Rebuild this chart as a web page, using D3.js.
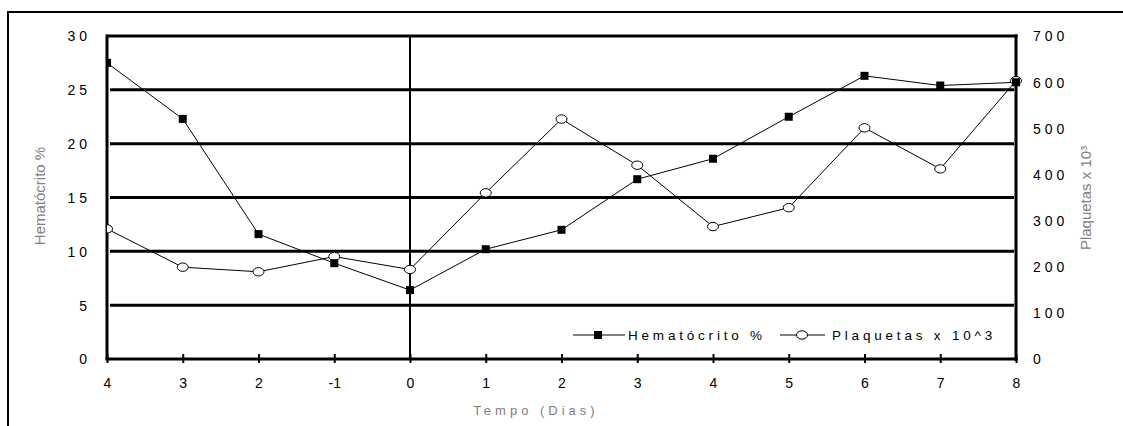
<!DOCTYPE html>
<html>
<head>
<meta charset="utf-8">
<script src="https://cdn.jsdelivr.net/npm/d3@7"></script>
<style>
  html, body { margin: 0; padding: 0; background: #fff; }
  svg { display: block; font-family: "Liberation Sans", Arial, sans-serif; }
</style>
</head>
<body>
<svg id="chart" width="1123" height="426"></svg>
<script>
// Day labels along the time axis (day index order as recorded)
const dayLabels = ["4", "3", "2", "-1", "0", "1", "2", "3", "4", "5", "6", "7", "8"];
// Hematocrit (%) per day
const hematocrito = [27.5, 22.3, 11.6, 8.9, 6.4, 10.2, 12.0, 16.7, 18.6, 22.5, 26.3, 25.4, 25.7];
// Platelets (x 10^3) per day
const plaquetas = [282, 199, 189, 222, 194, 360, 520, 420, 287, 328, 501, 412, 603];
// Axis tick values
const leftTicks = [0, 5, 10, 15, 20, 25, 30];
const rightTicks = [0, 100, 200, 300, 400, 500, 600, 700];
const zeroDayIndex = 4;

const svg = d3.select("#chart");
const plot = { left: 107, right: 1016, top: 36, bottom: 359 };
const font = "Liberation Sans, Arial, sans-serif";

const x = d3.scalePoint().domain(d3.range(dayLabels.length)).range([plot.left, plot.right]).padding(0);
const yL = d3.scaleLinear().domain([0, 30]).range([plot.bottom, plot.top]);
const yR = d3.scaleLinear().domain([0, 700]).range([plot.bottom, plot.top]);

// Outer frame (left and top edges)
svg.append("path")
  .attr("d", "M8,426 L8,12 L1123,12")
  .attr("fill", "none").attr("stroke", "#000").attr("stroke-width", 2);

// Horizontal gridlines
svg.append("g").selectAll("line")
  .data(leftTicks.filter(d => d > 0 && d < 30))
  .join("line")
  .attr("x1", plot.left + 3).attr("x2", plot.right - 2)
  .attr("y1", d => yL(d)).attr("y2", d => yL(d))
  .attr("stroke", "#000").attr("stroke-width", 3);

// Plot frame
const frame = svg.append("g").attr("stroke", "#000").attr("stroke-width", 3);
frame.append("line").attr("x1", plot.left).attr("x2", plot.right + 1.5).attr("y1", plot.top).attr("y2", plot.top);
frame.append("line").attr("x1", plot.left).attr("x2", plot.left).attr("y1", plot.top - 1.5).attr("y2", plot.bottom);
frame.append("line").attr("x1", plot.right).attr("x2", plot.right).attr("y1", plot.top - 1.5).attr("y2", plot.bottom + 2);
frame.append("line").attr("x1", plot.left - 1.5).attr("x2", plot.right + 1.5).attr("y1", plot.bottom).attr("y2", plot.bottom);

// Vertical reference line at day 0
svg.append("line")
  .attr("x1", x(zeroDayIndex)).attr("x2", x(zeroDayIndex))
  .attr("y1", plot.top).attr("y2", plot.bottom)
  .attr("stroke", "#000").attr("stroke-width", 2);

// Bottom axis tick marks and labels
const xAxis = d3.axisBottom(x).tickSize(0).tickPadding(0).tickFormat(i => dayLabels[i]);
const gx = svg.append("g").attr("transform", `translate(0,${plot.bottom})`).call(xAxis);
gx.select(".domain").remove();
gx.selectAll(".tick").append("line")
  .attr("y1", -5).attr("y2", 4).attr("stroke", "#000").attr("stroke-width", 2);
gx.selectAll(".tick text")
  .attr("y", 24).attr("dy", "0.35em")
  .attr("font-size", 14).attr("fill", "#000")
  .attr("font-family", font);

// Left axis labels
const gl = svg.append("g").attr("transform", `translate(${plot.left},0)`)
  .call(d3.axisLeft(yL).tickValues(leftTicks).tickSize(0).tickPadding(0));
gl.select(".domain").remove();
gl.selectAll(".tick text")
  .attr("x", -16).attr("dy", "0.35em")
  .attr("font-size", 14).attr("fill", "#000").attr("letter-spacing", 4)
  .attr("font-family", font);

// Right axis labels
const gr = svg.append("g").attr("transform", `translate(${plot.right},0)`)
  .call(d3.axisRight(yR).tickValues(rightTicks).tickSize(0).tickPadding(0));
gr.select(".domain").remove();
gr.selectAll(".tick text")
  .attr("x", 17).attr("dy", "0.35em")
  .attr("font-size", 14).attr("fill", "#000").attr("letter-spacing", 4)
  .attr("font-family", font);

// Axis titles
svg.append("text")
  .attr("transform", "translate(45,196) rotate(-90)")
  .attr("text-anchor", "middle")
  .attr("font-size", 15).attr("fill", "#808080")
  .text("Hematócrito %");
svg.append("text")
  .attr("transform", "translate(1091,198) rotate(-90)")
  .attr("text-anchor", "middle")
  .attr("font-size", 15).attr("fill", "#808080")
  .text("Plaquetas x 10³");
svg.append("text")
  .attr("x", 536).attr("y", 415)
  .attr("text-anchor", "middle")
  .attr("font-size", 13).attr("fill", "#808080").attr("letter-spacing", 4)
  .text("Tempo (Dias)");

// Series, clipped at the left axis
svg.append("clipPath").attr("id", "series-clip")
  .append("rect").attr("x", plot.left).attr("y", 0).attr("width", 1123 - plot.left).attr("height", 426);
const series = svg.append("g").attr("clip-path", "url(#series-clip)");

const lineH = d3.line().x((d, i) => x(i)).y(d => yL(d));
const lineP = d3.line().x((d, i) => x(i)).y(d => yR(d));

series.append("path").datum(plaquetas)
  .attr("d", lineP).attr("fill", "none").attr("stroke", "#000").attr("stroke-width", 1);
series.append("path").datum(hematocrito)
  .attr("d", lineH).attr("fill", "none").attr("stroke", "#000").attr("stroke-width", 1);

series.selectAll("ellipse.p").data(plaquetas).join("ellipse")
  .attr("class", "p")
  .attr("cx", (d, i) => x(i)).attr("cy", d => yR(d))
  .attr("rx", 5.5).attr("ry", 4.2)
  .attr("fill", "#fff").attr("stroke", "#000").attr("stroke-width", 1);

series.selectAll("rect.h").data(hematocrito).join("rect")
  .attr("class", "h")
  .attr("x", (d, i) => x(i) - 4).attr("y", d => yL(d) - 4)
  .attr("width", 8).attr("height", 8)
  .attr("fill", "#000");

// Legend
const legend = svg.append("g").attr("font-size", 13.5).attr("fill", "#000").attr("letter-spacing", 3.8)
  .attr("font-family", font);
const ly = 335;
legend.append("line").attr("x1", 573).attr("x2", 625).attr("y1", ly).attr("y2", ly).attr("stroke", "#000");
legend.append("rect").attr("x", 594).attr("y", ly - 4).attr("width", 8).attr("height", 8).attr("fill", "#000");
legend.append("text").attr("x", 628).attr("y", ly).attr("dy", "0.35em").text("Hematócrito %");
legend.append("line").attr("x1", 780).attr("x2", 825).attr("y1", ly).attr("y2", ly).attr("stroke", "#000");
legend.append("ellipse").attr("cx", 802).attr("cy", ly).attr("rx", 5.5).attr("ry", 4.2)
  .attr("fill", "#fff").attr("stroke", "#000");
legend.append("text").attr("x", 832).attr("y", ly).attr("dy", "0.35em").text("Plaquetas x 10^3");
</script>
</body>
</html>
